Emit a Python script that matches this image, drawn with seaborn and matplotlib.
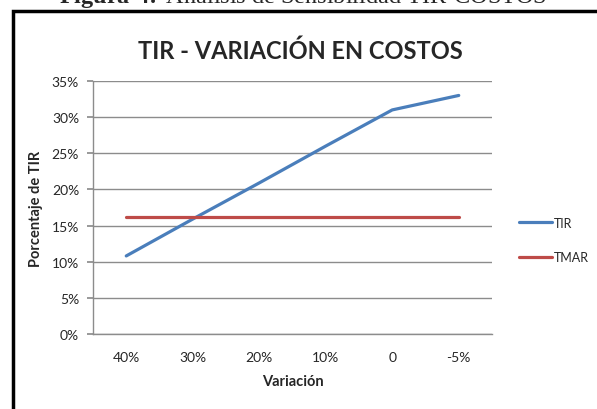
import matplotlib.pyplot as plt
import pandas as pd
import seaborn as sns
from matplotlib.patches import Rectangle

variacion = ["40%", "30%", "20%", "10%", "0", "-5%"]
tir = [10.8, 15.9, 20.9, 26.0, 31.0, 33.0]
tmar = [16.2, 16.2, 16.2, 16.2, 16.2, 16.2]
y_ticks = [0, 5, 10, 15, 20, 25, 30, 35]

df = pd.concat([
    pd.DataFrame({"Variación": variacion, "valor": tir, "serie": "TIR"}),
    pd.DataFrame({"Variación": variacion, "valor": tmar, "serie": "TMAR"}),
])

sns.set_theme(style="white")
plt.rcParams["font.family"] = ["Lato", "DejaVu Sans"]
plt.rcParams["mathtext.fontset"] = "custom"
plt.rcParams["mathtext.rm"] = "Liberation Serif"
plt.rcParams["mathtext.bf"] = "Liberation Serif:bold"

fig = plt.figure(figsize=(5.97, 4.10), dpi=100)
ax = fig.add_axes([93 / 597, 1 - 335 / 410, (492 - 93) / 597, (335 - 82) / 410])

sns.lineplot(
    data=df, x="Variación", y="valor", hue="serie",
    palette={"TIR": "#4A7EBB", "TMAR": "#BE4B48"},
    linewidth=2.3, ax=ax, legend=False, sort=False,
)

ax.set_xlim(-0.5, len(variacion) - 0.5)
ax.set_ylim(0, 35)
ax.set_yticks(y_ticks)
ax.set_yticklabels([f"{v}%" for v in y_ticks], fontsize=10)
ax.set_xticks(range(len(variacion)))
ax.set_xticklabels(variacion, fontsize=10)
ax.yaxis.grid(True, color="#8c8c8c", linewidth=1)
ax.xaxis.grid(False)
for side in ["top", "right"]:
    ax.spines[side].set_visible(False)
for side in ["left", "bottom"]:
    ax.spines[side].set_color("#8c8c8c")
    ax.spines[side].set_linewidth(1)
ax.tick_params(axis="y", length=4, color="#8c8c8c", pad=6, left=True)
ax.tick_params(axis="x", length=0, pad=12)
ax.set_xlabel("Variación", fontsize=10.5, fontweight="bold", labelpad=8)
ax.set_ylabel("Porcentaje de TIR", fontsize=10.5, fontweight="bold", labelpad=6)

handles = [
    plt.Line2D([], [], color="#4A7EBB", linewidth=2.3),
    plt.Line2D([], [], color="#BE4B48", linewidth=2.3),
]
fig.legend(
    handles, ["TIR", "TMAR"], loc="center left",
    bbox_to_anchor=(508 / 597, 1 - 241 / 410), frameon=False,
    fontsize=9, handlelength=2.6, handletextpad=0.15, labelspacing=1.8,
)

fig.text(300 / 597, 1 - 59 / 410, "TIR - VARIACIÓN EN COSTOS",
         ha="center", va="baseline", fontsize=17, fontweight="bold")

fig.text(303 / 597, 1 - 3 / 410,
         r"$\mathbf{Figura\ 4.}$ Análisis de Sensibilidad TIR-COSTOS",
         ha="center", va="baseline", fontsize=17.5, family="Liberation Serif")

fig.patches.append(Rectangle((13 / 597, -0.1), 1.2, 1 - 12 / 410 + 0.1,
                             transform=fig.transFigure, fill=False,
                             edgecolor="black", linewidth=2.5))

fig.savefig("out.png", dpi=100)
